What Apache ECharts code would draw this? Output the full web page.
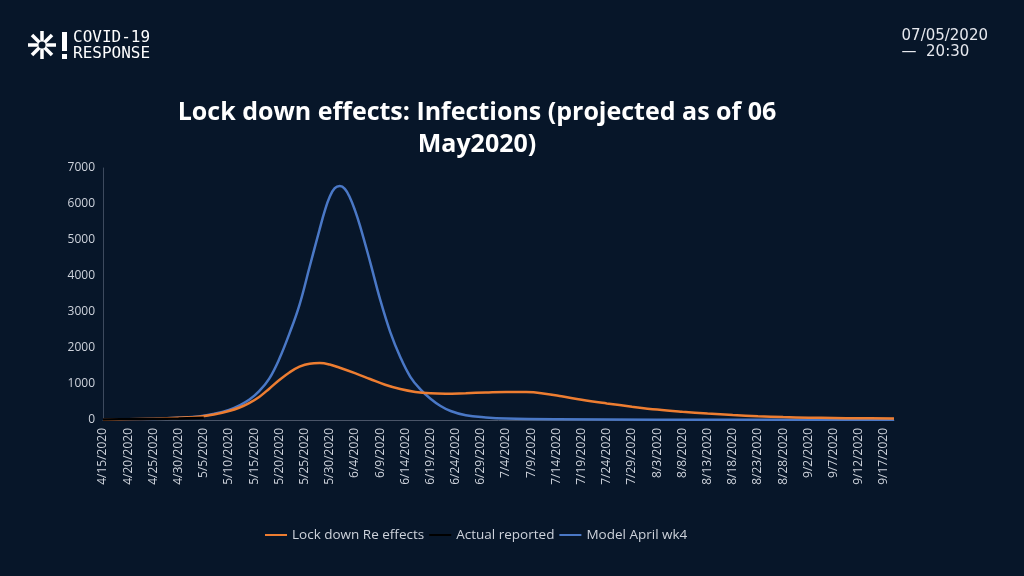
<!DOCTYPE html>
<html>
<head>
<meta charset="utf-8">
<title>Lock down effects</title>
<script src="https://cdn.jsdelivr.net/npm/echarts@6/dist/echarts.min.js"></script>
<style>
  html, body { margin: 0; padding: 0; background: #071629; }
  #chart { width: 1024px; height: 576px; }
</style>
</head>
<body>
<div id="chart"></div>
<script>
// daily categories 4/15/2020 .. 9/19/2020
var startDate = new Date(2020, 3, 15)
var dayCount = 158
var categories = []
for (var i = 0; i < dayCount; i++) {
  var d = new Date(startDate.getTime() + i * 86400000)
  categories.push((d.getMonth() + 1) + '/' + d.getDate() + '/' + d.getFullYear())
}

var yTicks = [0, 1000, 2000, 3000, 4000, 5000, 6000, 7000]

// Lock down Re effects (orange)
var lockdownDates = ['4/15/2020', '4/20/2020', '4/25/2020', '4/30/2020', '5/4/2020', '5/7/2020', '5/10/2020',
  '5/12/2020', '5/14/2020', '5/16/2020', '5/18/2020', '5/20/2020', '5/22/2020', '5/24/2020', '5/26/2020',
  '5/28/2020', '5/30/2020', '6/1/2020', '6/4/2020', '6/7/2020', '6/10/2020', '6/13/2020', '6/16/2020',
  '6/19/2020', '6/22/2020', '6/26/2020', '6/30/2020', '7/4/2020', '7/8/2020', '7/11/2020', '7/15/2020',
  '7/19/2020', '7/24/2020', '7/29/2020', '8/3/2020', '8/8/2020', '8/13/2020', '8/18/2020', '8/23/2020',
  '8/28/2020', '9/2/2020', '9/7/2020', '9/12/2020', '9/19/2020']
var lockdownValues = [10, 18, 35, 60, 90, 150, 250,
  340, 470, 640, 870, 1110, 1320, 1480, 1565,
  1580, 1540, 1450, 1300, 1140, 980, 860, 780,
  740, 730, 745, 765, 780, 775, 745, 660,
  560, 460, 370, 290, 230, 180, 140, 105,
  80, 65, 55, 48, 40]

// Actual reported (black)
var actualDates = ['4/15/2020', '4/20/2020', '4/25/2020', '4/30/2020', '5/5/2020']
var actualValues = [15, 20, 28, 40, 60]

// Model April wk4 (blue)
var modelDates = ['4/15/2020', '4/20/2020', '4/25/2020', '4/30/2020', '5/4/2020', '5/7/2020', '5/10/2020',
  '5/12/2020', '5/14/2020', '5/16/2020', '5/18/2020', '5/20/2020', '5/22/2020', '5/24/2020', '5/26/2020',
  '5/28/2020', '5/29/2020', '5/30/2020', '5/31/2020', '6/1/2020', '6/2/2020', '6/3/2020', '6/4/2020',
  '6/5/2020', '6/7/2020', '6/9/2020', '6/11/2020', '6/13/2020', '6/15/2020', '6/17/2020', '6/19/2020',
  '6/21/2020', '6/23/2020', '6/26/2020', '6/30/2020', '7/4/2020', '7/14/2020', '8/3/2020', '8/23/2020',
  '9/19/2020']
var modelValues = [5, 12, 30, 60, 95, 170, 280,
  400, 560, 800, 1150, 1700, 2400, 3200, 4250,
  5300, 5800, 6200, 6440, 6500, 6420, 6180, 5830,
  5400, 4400, 3350, 2450, 1750, 1200, 850, 590,
  390, 250, 130, 70, 40, 20, 10, 6,
  4]

function toPoints (dates, values) {
  return dates.map(function (x, i) { return [categories.indexOf(x), values[i]] })
}

var chart = echarts.init(document.getElementById('chart'))

var labelColor = '#cdd2db'
var fontFamily = '"Open Sans", "Noto Sans", sans-serif'

var option = {
  backgroundColor: '#071629',
  animation: false,
  title: {
    text: 'Lock down effects: Infections (projected as of 06\nMay2020)',
    left: 472,
    top: 92,
    textAlign: 'center',
    textStyle: {
      color: '#ffffff',
      fontFamily: fontFamily,
      fontWeight: 'bold',
      fontSize: 25,
      lineHeight: 32
    }
  },
  graphic: [
    // logo snowflake
    { type: 'line', shape: { x1: 28, y1: 45, x2: 56, y2: 45 }, style: { stroke: '#fff', lineWidth: 3.5 } },
    { type: 'line', shape: { x1: 42, y1: 31, x2: 42, y2: 59 }, style: { stroke: '#fff', lineWidth: 3.5 } },
    { type: 'line', shape: { x1: 32, y1: 35, x2: 52, y2: 55 }, style: { stroke: '#fff', lineWidth: 3.5 } },
    { type: 'line', shape: { x1: 52, y1: 35, x2: 32, y2: 55 }, style: { stroke: '#fff', lineWidth: 3.5 } },
    { type: 'circle', shape: { cx: 42, cy: 45, r: 3.5 }, style: { fill: '#071629' } },
    { type: 'rect', shape: { x: 62, y: 32, width: 5, height: 19 }, style: { fill: '#fff' } },
    { type: 'rect', shape: { x: 62, y: 54, width: 5, height: 5 }, style: { fill: '#fff' } },
    {
      type: 'text', left: 73, top: 30,
      style: { text: 'COVID-19\nRESPONSE', fill: '#ffffff', font: '16px "DejaVu Sans Mono", monospace', lineHeight: 16 }
    },
    {
      type: 'text', right: 36, top: 28,
      style: { text: '07/05/2020\n—  20:30', fill: '#e6e8ee', font: '15px "DejaVu Sans", sans-serif', lineHeight: 16, align: 'right' }
    }
  ],
  legend: {
    top: 523,
    left: 260,
    icon: 'rect',
    itemWidth: 22,
    itemHeight: 2,
    itemGap: 5,
    textStyle: { color: labelColor, fontSize: 13.5, fontFamily: fontFamily },
    data: ['Lock down Re effects', 'Actual reported', 'Model April wk4']
  },
  grid: {
    left: 103,
    right: 130,
    top: 168,
    bottom: 156
  },
  xAxis: {
    type: 'value',
    min: 0,
    max: dayCount - 1,
    interval: 5,
    axisLine: { show: true, onZero: false, lineStyle: { color: '#4a5568', width: 1 } },
    axisTick: { show: false },
    axisLabel: {
      rotate: 90,
      showMaxLabel: false,
      color: labelColor,
      fontSize: 12,
      fontFamily: fontFamily,
      margin: 8,
      formatter: function (v) { return categories[v] || '' }
    },
    splitLine: { show: false }
  },
  yAxis: {
    type: 'value',
    min: yTicks[0],
    max: yTicks[yTicks.length - 1],
    interval: 1000,
    axisLine: { show: true, lineStyle: { color: '#3d4a5e', width: 1 } },
    axisTick: { show: false },
    axisLabel: { color: labelColor, fontSize: 12, fontFamily: fontFamily, margin: 8, formatter: function (v) { return String(v) } },
    splitLine: { show: false }
  },
  series: [
    {
      name: 'Lock down Re effects',
      type: 'line',
      data: toPoints(lockdownDates, lockdownValues),
      smooth: 0.4,
      showSymbol: false,
      color: '#ed7d31',
      lineStyle: { width: 2.5, color: '#ed7d31' },
      z: 3
    },
    {
      name: 'Actual reported',
      type: 'line',
      data: toPoints(actualDates, actualValues),
      smooth: 0.4,
      showSymbol: false,
      color: '#000000',
      lineStyle: { width: 2.5, color: '#000000' },
      z: 4
    },
    {
      name: 'Model April wk4',
      type: 'line',
      data: toPoints(modelDates, modelValues),
      smooth: 0.4,
      showSymbol: false,
      color: '#4a78c6',
      lineStyle: { width: 2.5, color: '#4a78c6' },
      z: 2
    }
  ]
}

chart.setOption(option)
</script>
</body>
</html>
